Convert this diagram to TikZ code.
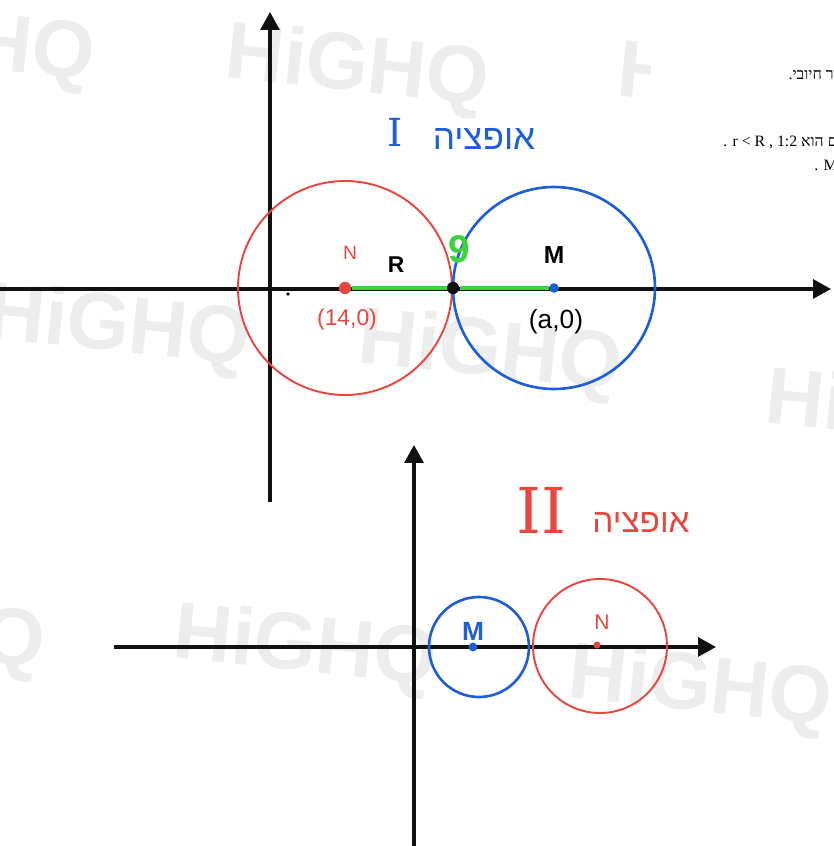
\documentclass[tikz,border=0pt]{standalone}
\usepackage{fontspec}
\setmainfont{Liberation Serif}
\newfontfamily\hand{Liberation Sans}
\newfontfamily\slabfont{DejaVu Serif}
\newfontfamily\hebhand[Script=Hebrew]{Liberation Sans}
\newfontfamily\hebprint[Script=Hebrew]{Liberation Serif}
\TeXXeTstate=1
\usetikzlibrary{arrows.meta,positioning}
\definecolor{penred}{HTML}{E8463F}
\definecolor{penblue}{HTML}{1E5FD8}
\definecolor{pengreen}{HTML}{3CD43C}
\definecolor{ink}{HTML}{111111}
\definecolor{wmgray}{HTML}{EDEDED}
\tikzset{axis/.style={-{Triangle[length=3.6mm,width=3.8mm]},line width=1.8pt,draw=ink},
  wmark/.style={text=wmgray,font=\hand\bfseries\fontsize{46}{46}\selectfont,rotate=-6},
  lbl/.style={inner sep=1pt,font=\hand\fontsize{13}{13}\selectfont},
  ctr/.style={circle,fill=#1,inner sep=0pt,minimum size=6pt},
  printed/.style={anchor=east,inner sep=0pt,font=\fontsize{9}{9}\selectfont}}

\begin{document}
\begin{tikzpicture}[x=0.02cm,y=0.02cm]
\useasboundingbox (0,0) rectangle (833,846);
\clip (0,0) rectangle (833,846);
% watermark
\foreach \wx/\wy in {-37/801,357/776,118/516,490/491,897/431,-87/213,305/196,700/156}
  \node[wmark] at (\wx,\wy) {HiGHQ};
\begin{scope}
  \clip (600,600) rectangle (650,846);
  \node[wmark] at (749,758) {HiGHQ};
\end{scope}
% cut of the printed page
\node[printed] (lineA) at (838,771) {{\hebprint\beginR ור חיובי.\endR}};
\node[printed] (lineB) at (838,704) {. r < R , 1:2 {\hebprint\beginR ם הוא\endR}};
\node[printed] (lineC) at (838,681) {. M};

% option I
\coordinate (xa) at (0,557); \coordinate (xb) at (831,557);
\coordinate (ya) at (270,344); \coordinate (yb) at (270,834);
\draw[axis] (xa) -- (xb);
\draw[axis] (ya) -- (yb);
\draw[penred,line width=1.1pt] (345,558) circle[radius=107];
\draw[penblue,line width=1.5pt] (554,558) circle[radius=101];
\node[ctr=penred,minimum size=7pt] (N) at (345,558) {};
\node[ctr=penblue,minimum size=5.5pt] (M) at (554,558) {};
\node[ctr=ink,minimum size=7pt] (T) at (453,558) {};
\draw[pengreen,line width=2.8pt] (N.east) -- (T.west);
\draw[pengreen,line width=2.8pt] (T.east) -- (M.west);
\node[ctr=ink,minimum size=2pt] (O) at (288,552) {};
\node[lbl,text=penred,font=\hand\fontsize{11}{11}\selectfont] (Nname) at (350,593) {N};
\node[lbl,font=\hand\bfseries\fontsize{13}{13}\selectfont] (Rname) at (396,581) {R};
\node[lbl,text=pengreen,font=\hand\bfseries\fontsize{22}{22}\selectfont] (gap) at (459,597) {9};
\node[lbl,font=\hand\bfseries\fontsize{14}{14}\selectfont] (Mname) at (554,591) {M};
\node[lbl,text=penred] (Npos) at (347,526) {(14,0)};
\node[lbl,font=\hand\fontsize{15}{15}\selectfont] (Mpos) at (556,524) {(a,0)};
\node[lbl,text=penblue,font=\slabfont\fontsize{22}{22}\selectfont] (optA) at (395,714) {I};
\node[lbl,text=penblue,font=\hebhand\fontsize{20}{20}\selectfont] (optAtxt) at (484,707) {\beginR אופציה\endR};

% option II
\coordinate (xc) at (114,199); \coordinate (xd) at (716,199);
\coordinate (yc) at (414,-2); \coordinate (yd) at (414,401);
\draw[axis] (xc) -- (xd);
\draw[axis] (yc) -- (yd);
\draw[penblue,line width=1.5pt] (479,199) circle[radius=50];
\draw[penred,line width=1.1pt] (600,200) circle[radius=67];
\node[ctr=penblue,minimum size=5pt] (m) at (473,199) {};
\node[ctr=penred,minimum size=4pt] (n) at (597,201) {};
\node[lbl,text=penblue,font=\hand\bfseries\fontsize{15}{15}\selectfont] (mname) at (473,215) {M};
\node[lbl,text=penred,font=\hand\fontsize{12}{12}\selectfont] (nname) at (602,224) {N};
\node[lbl,text=penred,font=\slabfont\fontsize{36}{36}\selectfont] (optB) at (541,336) {II};
\node[lbl,text=penred,font=\hebhand\fontsize{19}{19}\selectfont] (optBtxt) at (641,323) {\beginR אופציה\endR};
\end{tikzpicture}
\end{document}
